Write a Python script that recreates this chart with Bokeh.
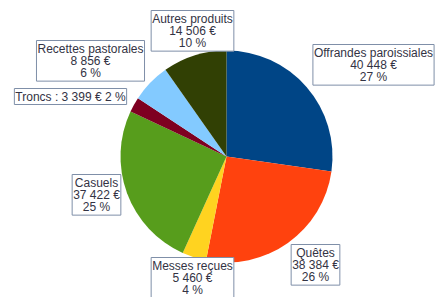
import numpy as np
from bokeh.plotting import figure
from bokeh.models import Label, ColumnDataSource
from bokeh.embed import file_html
from bokeh.resources import INLINE

categories = ["Offrandes paroissiales", "Quêtes", "Messes reçues", "Casuels",
              "Troncs", "Recettes pastorales", "Autres produits"]
values = [40448, 38384, 5460, 37422, 3399, 8856, 14506]
percents = [27, 26, 4, 25, 2, 6, 10]
value_labels = ["40 448 €", "38 384 €", "5 460 €", "37 422 €", "3 399 €", "8 856 €", "14 506 €"]
colors = ["#004586", "#ff420e", "#ffd320", "#579d1c", "#7e0021", "#83caff", "#314004"]

W, H = 435, 297
p = figure(width=W, height=H, x_range=(0, W), y_range=(0, H),
           output_backend="svg", toolbar_location=None, min_border=0)
p.axis.visible = False
p.grid.visible = False
p.outline_line_color = None

vals = np.array(values, dtype=float)
frac = vals / vals.sum()
cum = np.concatenate([[0], np.cumsum(frac)])
start = np.pi / 2 - cum[:-1] * 2 * np.pi
end = np.pi / 2 - cum[1:] * 2 * np.pi
src = ColumnDataSource(dict(start=start, end=end, color=colors))
cx, cy, r = 226, 141, 106
p.wedge(x=cx, y=cy, radius=r, start_angle="start", end_angle="end",
        direction="clock", fill_color="color", line_color=None, source=src)

# label layout: (x center, top y) in pixel-like data coords
layout = [
    (373, 253, "{c}\n{v}\n{p} %"),
    (315, 53, "{c}\n{v}\n{p} %"),
    (192, 40, "{c}\n{v}\n{p} %"),
    (96, 123, "{c}\n{v}\n{p} %"),
    (70, 209, "{c} : {v} {p} %"),
    (90, 257, "{c}\n{v}\n{p} %"),
    (192, 287, "{c}\n{v}\n{p} %"),
]
for (lx, ly, fmt), c, v, pc in zip(layout, categories, value_labels, percents):
    p.add_layout(Label(x=lx, y=ly, text=fmt.format(c=c, v=v, p=pc),
                       text_align="center", text_baseline="top",
                       text_font="Liberation Sans", text_font_size="12px",
                       text_color="#333344", text_line_height=0.88,
                       border_line_color="#7f8fa8", border_line_width=1,
                       background_fill_color="white", padding=1))

open("out.html", "w").write(file_html(p, INLINE))
